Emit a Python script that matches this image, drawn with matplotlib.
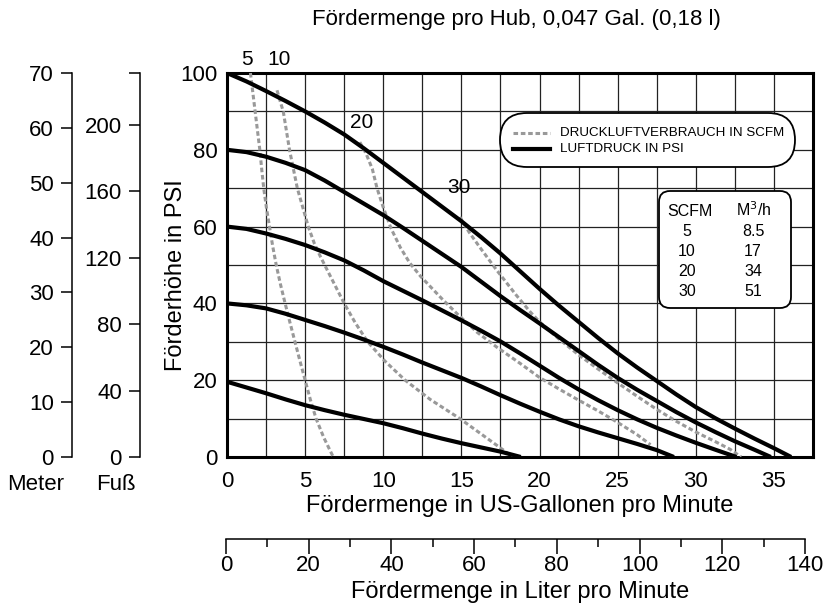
import matplotlib
matplotlib.use("Agg")
import matplotlib.pyplot as plt
import numpy as np
from matplotlib.lines import Line2D
from matplotlib.patches import FancyBboxPatch

plt.rcParams["font.family"] = ["Liberation Sans", "DejaVu Sans"]

# Luftdruck-Kurven (PSI): Fördermenge [US-Gal/min] -> Förderhöhe [PSI]
PSI100_X = [0, 1.25, 2.5, 3.75, 5, 6.25, 7.5, 8.75, 10, 11.25, 12.5, 13.75, 15, 16.25,
            17.5, 18.75, 20, 21.25, 22.5, 23.75, 25, 26.25, 27.5, 28.75, 30, 31.25,
            32.5, 33.75, 35, 36.1]
PSI100_Y = [100, 97.8, 95.3, 92.7, 90, 87.1, 84, 80.4, 76.6, 72.8, 69, 65.2, 61.4, 57.3,
            53, 48.4, 43.8, 39.4, 35.2, 31, 27, 23.3, 19.8, 16.3, 13, 10.1,
            7.4, 4.8, 2.3, 0]
PSI80_X = [0, 1.25, 2.5, 3.75, 5, 6.25, 7.5, 8.75, 10, 11.25, 12.5, 13.75, 15, 16.25,
           17.5, 18.75, 20, 21.25, 22.5, 23.75, 25, 26.25, 27.5, 28.75, 30, 31.25,
           32.5, 33.75, 34.8]
PSI80_Y = [80, 79.4, 78.2, 76.6, 74.7, 72, 69, 66, 63, 59.7, 56.3, 52.9, 49.5, 45.7,
           41.9, 38.3, 34.8, 31.2, 27.6, 24, 20.6, 17.5, 14.6, 11.7, 9, 6.5,
           4.1, 1.9, 0]
PSI60_X = [0, 1.25, 2.5, 3.75, 5, 6.25, 7.5, 8.75, 10, 11.25, 12.5, 13.75, 15, 16.25,
           17.5, 18.75, 20, 21.25, 22.5, 23.75, 25, 26.25, 27.5, 28.75, 30, 31.25, 32.6]
PSI60_Y = [60, 59.4, 58.2, 56.8, 55.2, 53.3, 51.2, 48.6, 45.8, 43.3, 40.8, 38.2, 35.6, 32.9,
           30.1, 27, 23.8, 20.6, 17.6, 14.8, 12.2, 9.8, 7.6, 5.6, 3.7, 1.9, 0]
PSI40_X = [0, 1.25, 2.5, 3.75, 5, 6.25, 7.5, 8.75, 10, 11.25, 12.5, 13.75, 15, 16.25,
           17.5, 18.75, 20, 21.25, 22.5, 23.75, 25, 26.25, 27.5, 28.6]
PSI40_Y = [40, 39.5, 38.7, 37.3, 35.7, 34.1, 32.4, 30.6, 28.7, 26.7, 24.6, 22.6, 20.6, 18.4,
           16.1, 13.9, 11.8, 9.8, 8, 6.4, 4.9, 3.4, 1.8, 0]
PSI20_X = [0, 1.25, 2.5, 3.75, 5, 6.25, 7.5, 8.75, 10, 11.25, 12.5, 13.75, 15, 16.25,
           17.5, 18.8]
PSI20_Y = [19.6, 18.1, 16.6, 15, 13.5, 12.2, 11, 9.9, 8.8, 7.5, 6.1, 4.8, 3.6, 2.5,
           1.4, 0]

# Druckluftverbrauch (SCFM)
SCFM5_X = [1.5, 1.65, 1.8, 1.95, 2.1, 2.22, 2.35, 2.52, 2.72, 2.92, 3.15, 3.42, 3.72,
           4.03, 4.35, 4.67, 5.0, 5.33, 5.7, 6.2, 6.8]
SCFM5_Y = [100, 95, 90, 85, 80, 75, 70, 65, 60, 55, 50, 45, 40,
           35, 30, 25, 20, 15, 10, 5, 0]
SCFM10_X = [3.2, 3.45, 3.6, 3.8, 4.0, 4.25, 4.5, 4.85, 5.2, 5.6, 6.0, 6.5, 7.0, 7.5,
            8.2, 9.0, 10.1, 11.4, 13.0, 14.9, 16.6, 18.3]
SCFM10_Y = [95.5, 92, 90, 85, 80, 75, 70, 65, 60, 55.5, 52, 48, 44, 40,
            35, 30, 25, 20, 15, 10, 5, 0]
SCFM20_X = [8.5, 8.9, 9.3, 9.6, 10.0, 10.5, 11.1, 11.7, 12.4, 13.1, 13.8, 14.8, 16.0,
            17.3, 18.75, 20, 21.25, 22.5, 23.75, 25, 26.25, 27.1]
SCFM20_Y = [82, 79, 75, 70, 65, 59.5, 54.5, 50.5, 47, 44, 41, 37, 32.5,
            28.5, 24.4, 20.7, 17.7, 14.8, 12, 9, 5.8, 3.2]
SCFM30_X = [14.9, 15.5, 16.2, 17.25, 18.5, 19.4, 20, 21.25, 22.5, 23.75, 25, 26.25,
            27.5, 28.75, 30, 31.25, 32.2, 32.9]
SCFM30_Y = [62.5, 58.5, 54.5, 48.7, 42.2, 37.8, 35.2, 30.7, 26.6, 22.9, 19.3, 15.8,
            12.4, 9.3, 6.5, 4, 2, 0]

# Kurvenbeschriftungen (SCFM) in Datenkoordinaten
SCFM_LEVELS = [5, 10, 20, 30]
SCFM_LABEL_X = [1.3, 3.3, 8.6, 14.85]
SCFM_LABEL_Y = [103.4, 103.4, 87.2, 70.3]

# Umrechnungstabelle
TABLE_SCFM = ["5", "10", "20", "30"]
TABLE_M3H = ["8.5", "17", "34", "51"]

X_TICKS = [0, 5, 10, 15, 20, 25, 30, 35]
Y_TICKS = [0, 20, 40, 60, 80, 100]
METER_TICKS = [0, 10, 20, 30, 40, 50, 60, 70]
FEET_TICKS = [0, 40, 80, 120, 160, 200]
LITER_TICKS = [0, 20, 40, 60, 80, 100, 120, 140]

W, H = 833, 609
GAL_MAX = 37.5
L_PER_GAL = 3.78541


def px_rect(x0, y0, x1, y1):
    return [x0 / W, 1 - y1 / H, (x1 - x0) / W, (y1 - y0) / H]


def fig_text(x, y, s, **kw):
    return fig.text(x / W, 1 - y / H, s, **kw)


fig = plt.figure(figsize=(W / 100, H / 100), dpi=100)

# main chart
ax = fig.add_axes(px_rect(227, 73, 813, 457))
ax.set_xlim(0, GAL_MAX)
ax.set_ylim(0, 100)
ax.set_xticks(X_TICKS)
ax.set_yticks(Y_TICKS)
ax.set_xticks(np.arange(0, GAL_MAX + 0.1, 2.5), minor=True)
ax.set_yticks(np.arange(0, 101, 10), minor=True)
ax.grid(which="both", color="#222222", lw=0.9)
ax.set_axisbelow(True)
ax.tick_params(which="both", length=0, labelsize=16)
ax.tick_params(axis="x", pad=10)
ax.tick_params(axis="y", pad=7)
for s in ax.spines.values():
    s.set_linewidth(2.2)
ax.set_xlabel("Fördermenge in US-Gallonen pro Minute", fontsize=17, labelpad=2)
fig_text(176, 275, "Förderhöhe in PSI", fontsize=17, rotation=90,
         ha="center", va="center")

gray = "#999999"
dash = (1.5, 0.9)
scfm_curves = [(SCFM5_X, SCFM5_Y), (SCFM10_X, SCFM10_Y),
               (SCFM20_X, SCFM20_Y), (SCFM30_X, SCFM30_Y)]
for xs, ys in scfm_curves:
    ax.plot(xs, ys, color=gray, lw=2.2, linestyle=(0, dash), zorder=3)

psi_curves = [(PSI100_X, PSI100_Y), (PSI80_X, PSI80_Y), (PSI60_X, PSI60_Y),
              (PSI40_X, PSI40_Y), (PSI20_X, PSI20_Y)]
for xs, ys in psi_curves:
    ax.plot(xs, ys, color="black", lw=3, zorder=4, solid_capstyle="butt",
            solid_joinstyle="round")

for lvl, lx, ly in zip(SCFM_LEVELS, SCFM_LABEL_X, SCFM_LABEL_Y):
    ax.text(lx, ly, str(lvl), fontsize=15, ha="center", va="center",
            clip_on=False, zorder=5)

# legend (pill shaped)
pill = FancyBboxPatch((5.00, 6.09 - 1.67), 2.95, 0.54,
                      boxstyle="round,pad=0,rounding_size=0.27",
                      transform=fig.dpi_scale_trans, fc="white", ec="black",
                      lw=1.3, zorder=6)
fig.add_artist(pill)
fig.add_artist(Line2D([513 / W, 550 / W], [1 - 133 / H] * 2, color=gray, lw=2.2,
                      linestyle=(0, dash), zorder=7))
fig.add_artist(Line2D([513 / W, 550 / W], [1 - 149 / H] * 2, color="black", lw=3,
                      zorder=7))
fig_text(560, 133, "DRUCKLUFTVERBRAUCH IN SCFM", fontsize=9.6,
         va="center", ha="left", zorder=8)
fig_text(560, 149, "LUFTDRUCK IN PSI", fontsize=9.6,
         va="center", ha="left", zorder=8)

# conversion table
tbl = FancyBboxPatch((6.59, 6.09 - 3.08), 1.32, 1.17,
                     boxstyle="round,pad=0,rounding_size=0.11",
                     transform=fig.dpi_scale_trans, fc="white", ec="black",
                     lw=1.3, zorder=6)
fig.add_artist(tbl)
fig_text(690, 212, "SCFM", fontsize=11.5, ha="center", va="center", zorder=8)
fig_text(754, 210, "M$^3$/h", fontsize=11.5, ha="center", va="center", zorder=8)
for i, (a, b) in enumerate(zip(TABLE_SCFM, TABLE_M3H)):
    fig_text(687, 231 + 20 * i, a, fontsize=11.5, ha="center", va="center", zorder=8)
    fig_text(753, 231 + 20 * i, b, fontsize=11.5, ha="center", va="center", zorder=8)


# left axes: Meter and Fuß
def side_axis(x, top, ticks, labels):
    a = fig.add_axes(px_rect(x, 73, x + 1, 457))
    a.set_ylim(0, top)
    a.set_xticks([])
    a.set_yticks(ticks)
    a.set_yticklabels(labels)
    for k in ("top", "right", "bottom"):
        a.spines[k].set_visible(False)
    a.spines["left"].set_linewidth(1.1)
    a.tick_params(axis="y", direction="out", length=8, width=1.1,
                  labelsize=16, pad=5)
    a.patch.set_alpha(0)
    return a


side_axis(72, 70, METER_TICKS, [str(t) for t in METER_TICKS])
side_axis(140, 231, FEET_TICKS + [231], [str(t) for t in FEET_TICKS] + [""])
fig_text(36, 484, "Meter", fontsize=16, ha="center", va="center")
fig_text(116, 484, "Fuß", fontsize=16, ha="center", va="center")

# liters axis
axl = fig.add_axes(px_rect(226, 530, 813, 539))
axl.set_xlim(0, GAL_MAX * L_PER_GAL)
axl.set_yticks([])
axl.set_xticks(LITER_TICKS)
axl.set_xticks(np.arange(0, 141, 10), minor=True)
for k in ("top", "right", "left"):
    axl.spines[k].set_visible(False)
axl.spines["bottom"].set_bounds(0, 140)
axl.spines["bottom"].set_linewidth(1.1)
axl.tick_params(axis="x", which="major", direction="out", length=11, width=1.1,
                labelsize=16, pad=0.5)
axl.tick_params(axis="x", which="minor", direction="out", length=6, width=1.1)
axl.patch.set_alpha(0)
fig_text(520, 592, "Fördermenge in Liter pro Minute", fontsize=17,
         ha="center", va="center")

fig_text(516, 20, "Fördermenge pro Hub, 0,047 Gal. (0,18 l)",
         fontsize=16, ha="center", va="center")

fig.savefig("out.png", dpi=100)
